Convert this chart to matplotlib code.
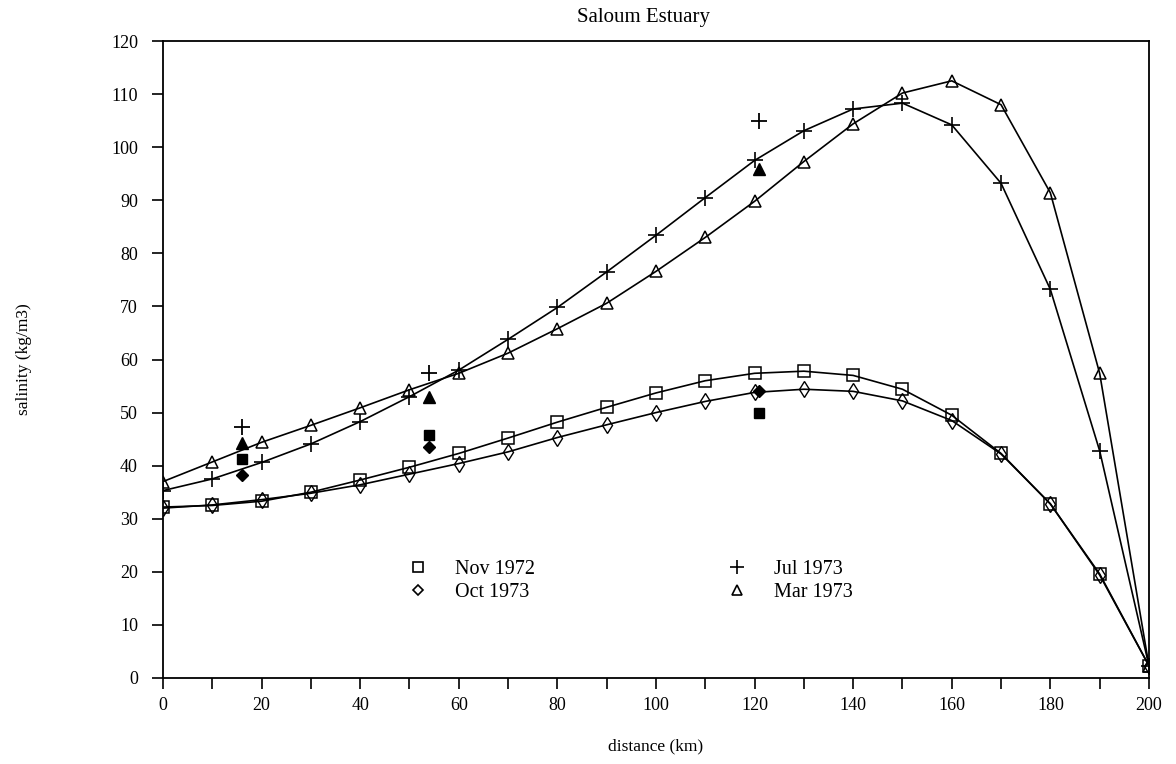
import matplotlib
matplotlib.use("Agg")
import matplotlib.pyplot as plt
from matplotlib.lines import Line2D

plt.rcParams['font.family'] = ['Liberation Serif', 'DejaVu Serif']

# Model profiles along the estuary, every 10 km
distance = list(range(0, 201, 10))
nov_1972 = [32.2, 32.5, 33.3, 35.0, 37.3, 39.7, 42.3, 45.2, 48.2, 51.0, 53.7,
            56.0, 57.4, 57.8, 57.0, 54.4, 49.5, 42.3, 32.8, 19.6, 2.3]
oct_1973 = [32.0, 32.6, 33.6, 34.8, 36.4, 38.4, 40.4, 42.6, 45.3, 47.7, 50.0,
            52.1, 53.8, 54.4, 54.0, 52.2, 48.5, 42.2, 32.8, 19.4, 2.3]
jul_1973 = [35.3, 37.5, 40.6, 44.1, 48.3, 53.0, 58.0, 63.8, 69.8, 76.5, 83.4,
            90.5, 97.5, 103.1, 107.2, 108.3, 104.2, 93.2, 73.2, 42.8, 2.3]
mar_1973 = [37.0, 40.7, 44.4, 47.6, 50.9, 54.3, 57.4, 61.2, 65.8, 70.6, 76.6,
            83.0, 89.8, 97.3, 104.4, 110.2, 112.5, 108.0, 91.4, 57.4, 2.3]

# Measured salinities at the stations
obs_distance = [16, 54, 121]
obs_jul = [47.3, 57.4, 105.0]
obs_mar = [44.3, 52.9, 95.8]
obs_nov = [41.2, 45.8, 49.9]
obs_oct = [38.2, 43.5, 54.0]

labels = ["Nov 1972", "Oct 1973", "Jul 1973", "Mar 1973"]

fig = plt.figure(figsize=(11.76, 7.64), dpi=100)
ax = fig.add_axes([0.1386, 0.1126, 0.8384, 0.8337])

lw = 1.2
ax.plot(distance, nov_1972, color='black', lw=lw, marker='s', ms=8.5,
        mfc='none', mec='black', mew=1.1)
ax.plot(distance, oct_1973, color='black', lw=lw, marker='d', ms=8,
        mfc='none', mec='black', mew=1.0)
ax.plot(distance, jul_1973, color='black', lw=lw, marker='+', ms=11,
        mew=1.2)
ax.plot(distance, mar_1973, color='black', lw=lw, marker='^', ms=9,
        mfc='none', mec='black', mew=1.1)

ax.plot(obs_distance, obs_jul, ls='none', marker='+', ms=11, color='black', mew=1.3)
ax.plot(obs_distance, obs_mar, ls='none', marker='^', ms=8, color='black')
ax.plot(obs_distance, obs_nov, ls='none', marker='s', ms=7, color='black')
ax.plot(obs_distance, obs_oct, ls='none', marker='D', ms=6, color='black')

ax.set_xlim(0, 200)
ax.set_ylim(0, 120)
ax.set_xticks(range(0, 201, 20))
ax.set_xticks(range(0, 201, 10), minor=True)
ax.set_yticks(range(0, 121, 10))
ax.tick_params(axis='both', which='both', direction='out', width=1.2,
               labelsize=13, colors='black')
ax.tick_params(axis='both', which='major', length=8)
ax.tick_params(axis='x', which='minor', length=8)
ax.tick_params(axis='x', pad=6)
ax.tick_params(axis='y', pad=10)
for sp in ax.spines.values():
    sp.set_linewidth(1.3)

ax.set_title("Saloum Estuary", fontsize=15, pad=14, x=0.487)
ax.set_xlabel("distance (km)", fontsize=12.5, labelpad=17)
ax.set_ylabel("salinity (kg/m3)", fontsize=12.5, labelpad=57)

handles = [
    Line2D([], [], ls='none', marker='s', ms=7, mfc='none', mec='black', mew=1.2),
    Line2D([], [], ls='none', marker='D', ms=5.5, mfc='none', mec='black', mew=1.2),
    Line2D([], [], ls='none', marker='+', ms=10, color='black', mew=1.2),
    Line2D([], [], ls='none', marker='^', ms=7, mfc='none', mec='black', mew=1.2),
]
ax.legend(handles, labels, ncol=2, frameon=False, fontsize=14.5,
          loc='upper left', bbox_to_anchor=(0.228, 0.214),
          handlelength=1.2, handletextpad=1.25, columnspacing=9.4,
          labelspacing=0.2)

fig.savefig("out.png", dpi=100)
